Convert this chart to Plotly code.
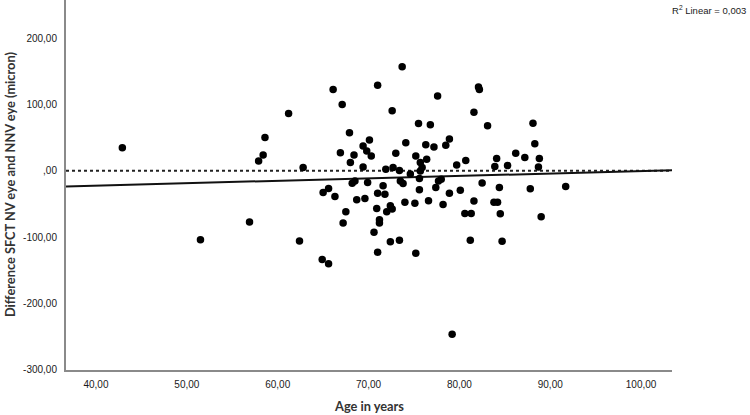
import plotly.graph_objects as go
import numpy as np

# Data
age = [42.9, 51.5, 56.9, 57.9, 58.4, 58.6, 61.2, 62.4, 62.8, 64.9,
       65.6, 65.0, 65.6, 66.3, 66.1, 67.1, 67.9, 66.9, 68.0, 68.4,
       69.4, 70.1, 69.8, 70.3, 69.4, 71.0, 68.2, 68.5, 69.9, 68.7,
       69.6, 71.0, 71.8, 67.5, 67.2, 70.9, 72.0, 72.4, 72.6, 71.2,
       71.2, 70.6, 71.0, 72.4, 73.4, 71.6, 73.7, 72.6, 74.1, 73.0,
       71.9, 72.7, 73.4, 74.6, 73.5, 73.8, 74.0, 77.6, 82.1, 82.2,
       81.6, 83.1, 75.5, 76.8, 88.1, 88.3, 76.3, 77.2, 78.5, 78.9,
       75.2, 76.4, 75.7, 75.9, 75.7, 75.6, 79.7, 80.7, 84.1, 86.2,
       87.2, 88.8, 83.9, 85.3, 88.7, 77.7, 78.0, 77.4, 75.6, 78.9,
       80.1, 82.5, 84.4, 87.8, 91.7, 75.1, 76.6, 78.2, 81.6, 83.8,
       84.2, 80.6, 81.3, 84.5, 81.2, 84.7, 75.2, 89.0, 79.2]
diff = [34.8, -103.9, -77.3, 14.7, 23.7, 50.3, 86.3, -105.9, 4.8, -133.9,
        -140.4, -32.7, -26.7, -38.7, 122.4, 99.8, 57.4, 27.3, 12.3, 23.7,
        37.2, 46.2, 29.7, 22.2, 5.7, 128.9, -18.8, -15.3, -17.7, -43.8,
        -41.7, -33.8, -35.3, -61.9, -78.8, -56.8, -61.9, -52.8, -57.8, -73.9,
        -78.8, -92.8, -122.8, -106.9, -104.8, -22.8, 156.9, 90.4, 42.3, 26.3,
        2.3, 4.8, 0.3, -4.8, -15.3, -19.2, -47.7, 112.9, 126.4, 122.4,
        88.3, 67.8, 71.3, 69.3, 71.8, 40.8, 39.3, 35.7, 38.3, 47.7,
        22.2, 17.3, 12.3, 4.8, -0.3, -11.7, 8.7, 15.3, 18.3, 26.3,
        19.8, 18.3, 6.3, 7.8, 5.7, -15.3, -12.8, -25.2, -28.8, -33.8,
        -29.3, -18.3, -25.2, -27.3, -23.7, -49.2, -45.3, -50.8, -45.8, -47.7,
        -47.7, -64.3, -64.3, -64.8, -104.8, -106.3, -124.3, -69.4, -246.5]

fit_intercept = -37.1
fit_slope = 0.366
r2_text = "R<sup>2</sup> Linear = 0,003"

x_tickvals = [40, 50, 60, 70, 80, 90, 100]
x_ticktext = ["40,00", "50,00", "60,00", "70,00", "80,00", "90,00", "100,00"]
y_tickvals = [200, 100, 0, -100, -200, -300]
y_ticktext = ["200,00", "100,00", ",00", "-100,00", "-200,00", "-300,00"]

x_range = [36.7, 103.4]
y_range = [-300.5, 257.5]

fig = go.Figure()

fit_x = np.array(x_range)
fig.add_trace(go.Scatter(x=fit_x, y=fit_intercept + fit_slope * fit_x, mode="lines",
                         line=dict(color="#111111", width=2), hoverinfo="skip",
                         showlegend=False))
fig.add_trace(go.Scatter(x=age, y=diff, mode="markers",
                         marker=dict(color="#000000", size=7.5),
                         showlegend=False))

fig.add_shape(type="line", xref="paper", yref="y", x0=0, x1=1, y0=0, y1=0,
              line=dict(color="#222222", width=2, dash="dot"), layer="below")

tick_font = dict(family="Liberation Sans, Arial", size=10, color="#1a1a1a")
title_font = dict(family="Lato, Open Sans", size=12.8, color="#333333")

fig.update_layout(
    width=750, height=415,
    margin=dict(l=66, r=78, t=0, b=45),
    paper_bgcolor="white", plot_bgcolor="white",
    xaxis=dict(range=x_range, tickvals=x_tickvals, ticktext=x_ticktext,
               showgrid=False, zeroline=False, showline=True,
               linecolor="#8a8a8a", linewidth=2, ticks="",
               tickfont=tick_font, ticklabelstandoff=4),
    yaxis=dict(range=y_range, tickvals=y_tickvals, ticktext=y_ticktext,
               showgrid=False, zeroline=False, showline=True,
               linecolor="#8a8a8a", linewidth=2, ticks="",
               tickfont=tick_font, ticklabelstandoff=5),
    annotations=[
        dict(text="<b>Age in years</b>", xref="paper", yref="paper", x=0.5, y=0,
             yshift=-36, xanchor="center", yanchor="middle", showarrow=False,
             font=title_font),
        dict(text="<b>Difference SFCT NV eye and NNV eye (micron)</b>", xref="paper",
             yref="paper", x=0, y=0.5, xshift=-56, xanchor="center", yanchor="middle",
             textangle=-90, showarrow=False, font=title_font),
        dict(text=r2_text, xref="paper", yref="paper", x=1, y=1, xshift=76, yshift=-10,
             xanchor="right", yanchor="middle", showarrow=False,
             font=dict(family="Liberation Sans, Arial", size=9.5, color="#1a1a1a")),
    ],
)

fig.write_html("out.html")
